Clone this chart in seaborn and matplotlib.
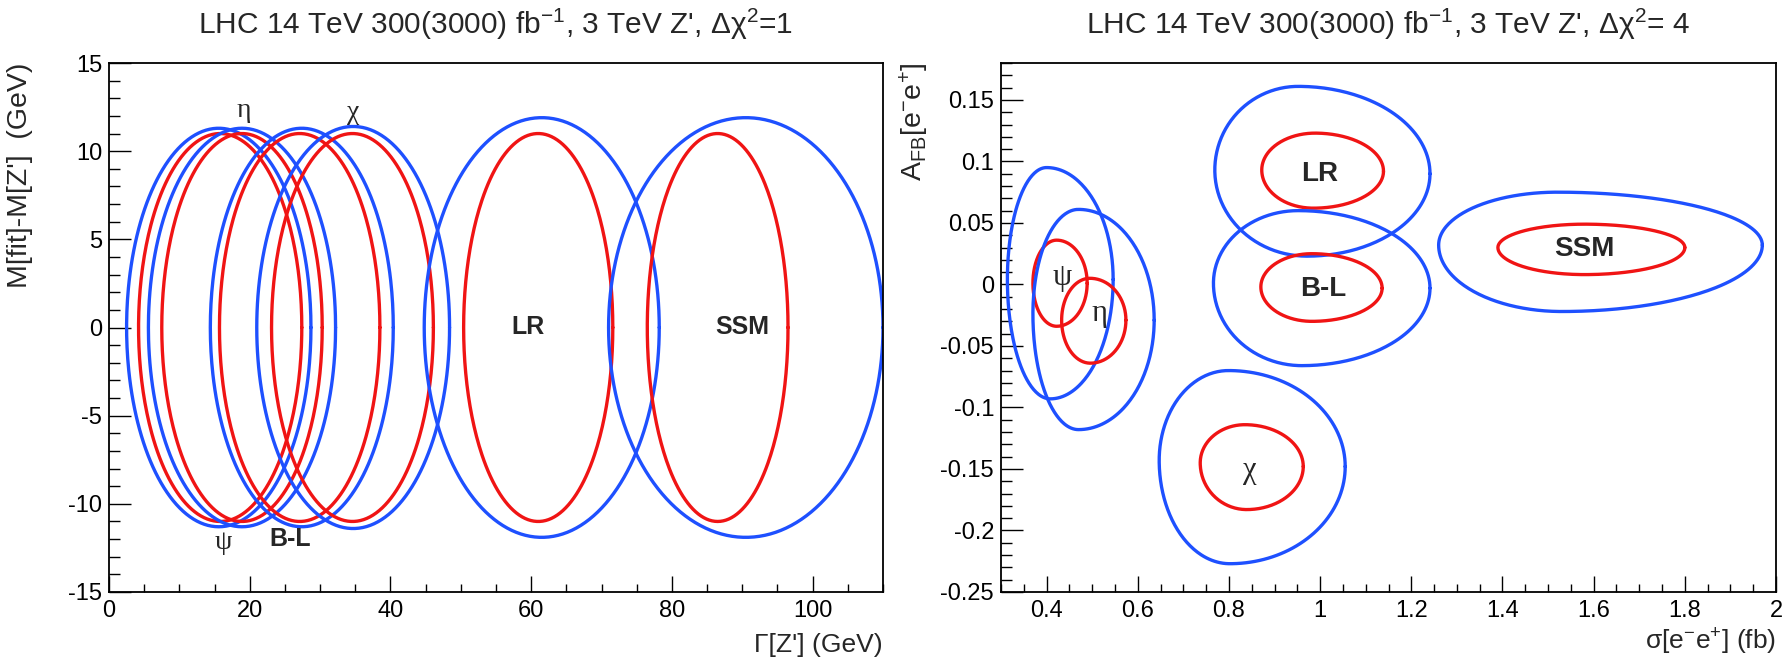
import numpy as np
import matplotlib
matplotlib.use("Agg")
import matplotlib.pyplot as plt
from matplotlib.ticker import MultipleLocator, FuncFormatter
from matplotlib import font_manager
import seaborn as sns

# ---------------- data: left panel (Delta chi^2 = 1) ----------------
left_models = ["psi", "eta", "B-L", "chi", "LR", "SSM"]
# 300 fb^-1 (blue)
width_c_300 = [15.6, 18.9, 27.4, 34.7, 61.5, 90.5]     # centre in Gamma [GeV]
width_hw_300 = [13.1, 13.3, 13.0, 13.7, 16.7, 19.5]    # half-range in Gamma
mass_hw_300 = [11.3, 11.3, 11.3, 11.4, 11.9, 11.9]     # half-range in M
# 3000 fb^-1 (red)
width_c_3000 = [15.8, 18.9, 27.1, 34.6, 61.0, 86.5]
width_hw_3000 = [11.6, 11.4, 11.4, 11.5, 10.6, 10.0]
mass_hw_3000 = [11.0, 11.0, 11.0, 11.0, 11.0, 11.0]

left_label_text = ["\u03c8", "\u03b7", "B-L", "\u03c7", "LR", "SSM"]
left_label_x = [16.3, 19.1, 25.7, 34.7, 59.6, 90.0]
left_label_y = [-12.2, 12.3, -12.0, 12.2, 0.0, 0.0]

# ---------------- data: right panel (Delta chi^2 = 4) ----------------
right_models = ["psi", "eta", "LR", "B-L", "chi", "SSM"]
# extreme points of each contour: top, right, bottom, left  (sigma, A_FB)
b_top_x = [0.400, 0.470, 0.952, 0.952, 0.799, 1.52]
b_top_y = [0.095, 0.061, 0.161, 0.060, -0.070, 0.075]
b_right_x = [0.546, 0.636, 1.241, 1.241, 1.055, 1.97]
b_right_y = [0.004, -0.029, 0.090, -0.003, -0.148, 0.032]
b_bot_x = [0.408, 0.470, 0.971, 0.960, 0.802, 1.53]
b_bot_y = [-0.093, -0.118, 0.023, -0.066, -0.227, -0.022]
b_left_x = [0.314, 0.370, 0.769, 0.766, 0.647, 1.26]
b_left_y = [0.004, -0.024, 0.093, 0.001, -0.143, 0.032]

r_top_x = [0.422, 0.495, 0.989, 0.982, 0.835, 1.58]
r_top_y = [0.036, 0.005, 0.123, 0.025, -0.114, 0.049]
r_right_x = [0.489, 0.574, 1.139, 1.136, 0.963, 1.80]
r_right_y = [0.001, -0.029, 0.092, -0.003, -0.148, 0.030]
r_bot_x = [0.422, 0.496, 0.985, 0.982, 0.839, 1.58]
r_bot_y = [-0.034, -0.064, 0.062, -0.030, -0.183, 0.008]
r_left_x = [0.370, 0.433, 0.872, 0.870, 0.737, 1.39]
r_left_y = [0.001, -0.029, 0.093, -0.002, -0.145, 0.030]

right_label_text = ["\u03c8", "\u03b7", "LR", "B-L", "\u03c7", "SSM"]
right_label_x = [0.435, 0.515, 0.998, 1.007, 0.846, 1.58]
right_label_y = [0.006, -0.024, 0.090, -0.004, -0.151, 0.029]

BLUE = "#1E50FF"
RED = "#F01414"


def contour(tx, ty, rx, ry, bx, by, lx, ly, n=80):
    """closed curve through the four extreme points (quarter ellipses)"""
    t1 = np.linspace(0, np.pi / 2, n)
    t2 = np.linspace(np.pi / 2, np.pi, n)
    t3 = np.linspace(np.pi, 1.5 * np.pi, n)
    t4 = np.linspace(1.5 * np.pi, 2 * np.pi, n)
    x = np.concatenate([tx + (rx - tx) * np.cos(t1), tx + (tx - lx) * np.cos(t2),
                        bx + (bx - lx) * np.cos(t3), bx + (rx - bx) * np.cos(t4)])
    y = np.concatenate([ry + (ty - ry) * np.sin(t1), ly + (ty - ly) * np.sin(t2),
                        ly + (ly - by) * np.sin(t3), ry + (ry - by) * np.sin(t4)])
    return x, y


sns.set_theme(style="ticks")
avail = {f.name for f in font_manager.fontManager.ttflist}
SANS = "Liberation Sans" if "Liberation Sans" in avail else "DejaVu Sans"
NARROW = "Liberation Sans Narrow" if "Liberation Sans Narrow" in avail else SANS
SERIF = "Liberation Serif" if "Liberation Serif" in avail else "DejaVu Serif"
plt.rcParams["font.family"] = [SANS, "DejaVu Sans"]
plt.rcParams["axes.unicode_minus"] = False
plt.rcParams["mathtext.default"] = "regular"

fig = plt.figure(figsize=(17.9, 6.6), dpi=100)
axL = fig.add_axes([109 / 1790, 1 - 592 / 660, 774 / 1790, 529 / 660])
axR = fig.add_axes([1001 / 1790, 1 - 592 / 660, 775 / 1790, 529 / 660])

# left panel
for i in range(len(left_models)):
    for c, hw, mh, col in [(width_c_300[i], width_hw_300[i], mass_hw_300[i], BLUE),
                           (width_c_3000[i], width_hw_3000[i], mass_hw_3000[i], RED)]:
        x, y = contour(c, mh, c + hw, 0.0, c, -mh, c - hw, 0.0)
        sns.lineplot(x=x, y=y, sort=False, estimator=None, color=col, lw=2.4, ax=axL)
for t, x, y in zip(left_label_text, left_label_x, left_label_y):
    if t in ("\u03c8", "\u03b7", "\u03c7"):
        axL.text(x, y, t, fontsize=20, family=SERIF, ha="center", va="center")
    else:
        axL.text(x, y, t, fontsize=18, fontweight="bold", ha="center", va="center")

axL.set_xlim(0, 110)
axL.set_ylim(-15, 15)
axL.xaxis.set_major_locator(MultipleLocator(20))
axL.xaxis.set_minor_locator(MultipleLocator(5))
axL.yaxis.set_major_locator(MultipleLocator(5))
axL.yaxis.set_minor_locator(MultipleLocator(1))
axL.xaxis.set_major_formatter(FuncFormatter(lambda v, p: f"{v:.0f}"))
axL.yaxis.set_major_formatter(FuncFormatter(lambda v, p: f"{v:.0f}"))

# right panel
for i in range(len(right_models)):
    x, y = contour(b_top_x[i], b_top_y[i], b_right_x[i], b_right_y[i],
                   b_bot_x[i], b_bot_y[i], b_left_x[i], b_left_y[i])
    sns.lineplot(x=x, y=y, sort=False, estimator=None, color=BLUE, lw=2.4, ax=axR)
    x, y = contour(r_top_x[i], r_top_y[i], r_right_x[i], r_right_y[i],
                   r_bot_x[i], r_bot_y[i], r_left_x[i], r_left_y[i])
    sns.lineplot(x=x, y=y, sort=False, estimator=None, color=RED, lw=2.4, ax=axR)
for t, x, y in zip(right_label_text, right_label_x, right_label_y):
    if t in ("\u03c8", "\u03b7", "\u03c7"):
        axR.text(x, y, t, fontsize=22, family=SERIF, ha="center", va="center")
    else:
        axR.text(x, y, t, fontsize=20, fontweight="bold", ha="center", va="center")

axR.set_xlim(0.3, 2.0)
axR.set_ylim(-0.25, 0.18)
axR.xaxis.set_major_locator(MultipleLocator(0.2))
axR.xaxis.set_minor_locator(MultipleLocator(0.05))
axR.yaxis.set_major_locator(MultipleLocator(0.05))
axR.yaxis.set_minor_locator(MultipleLocator(0.01))
fmt = FuncFormatter(lambda v, p: f"{round(v, 4):g}" if abs(v) > 1e-9 else "0")
axR.xaxis.set_major_formatter(fmt)
axR.yaxis.set_major_formatter(fmt)

for ax in (axL, axR):
    ax.grid(False)
    for s in ax.spines.values():
        s.set_visible(True)
        s.set_color("black")
        s.set_linewidth(1.3)
    ax.tick_params(axis="both", which="both", direction="in", top=False, right=False,
                   colors="black", labelsize=17, width=1.0)
    ax.tick_params(axis="x", which="major", length=11.5, pad=6)
    ax.tick_params(axis="x", which="minor", length=5.8)
    ax.tick_params(axis="y", which="major", length=16, pad=5)
    ax.tick_params(axis="y", which="minor", length=8)
    ax.set_xlabel("")
    ax.set_ylabel("")

# titles
fig.text(496 / 1790, 1 - 24 / 660,
         "LHC 14 TeV 300(3000) fb$^{-1}$, 3 TeV Z', \u0394\u03c7$^{2}$=1",
         family=[NARROW, "DejaVu Sans"], fontsize=21.5, ha="center", va="center")
fig.text(1388 / 1790, 1 - 24 / 660,
         "LHC 14 TeV 300(3000) fb$^{-1}$, 3 TeV Z', \u0394\u03c7$^{2}$= 4",
         family=[NARROW, "DejaVu Sans"], fontsize=21.5, ha="center", va="center")

# axis titles
fig.text(883 / 1790, 3 / 660, "\u0393[Z'] (GeV)", fontsize=19, ha="right", va="bottom")
fig.text(1776 / 1790, 3 / 660, "\u03c3[e$^{-}$e$^{+}$] (fb)", fontsize=19, ha="right", va="bottom")
fig.text(20 / 1790, 1 - 63 / 660, "M[fit]-M[Z']  (GeV)", fontsize=20.5, rotation=90,
         ha="center", va="top")
fig.text(914 / 1790, 1 - 63 / 660, "A$_{FB}$[e$^{-}$e$^{+}$]", fontsize=20.5, rotation=90,
         ha="center", va="top")

fig.savefig("out.png", dpi=100)
